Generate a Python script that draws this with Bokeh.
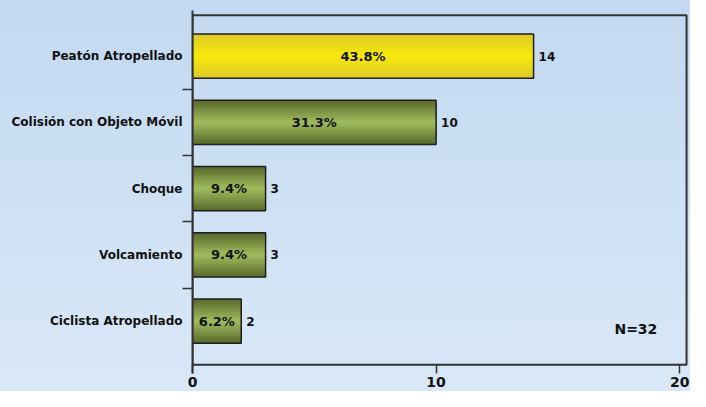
from bokeh.plotting import figure
from bokeh.models import (Range1d, FixedTicker, LinearAxis, BoxAnnotation, Label,
                          ColumnDataSource)
from bokeh.core.properties import value
from bokeh.embed import file_html
from bokeh.resources import INLINE

# ---- data ----
categories = ["Peatón Atropellado", "Colisión con Objeto Móvil", "Choque",
              "Volcamiento", "Ciclista Atropellado"]
counts = [14, 10, 3, 3, 2]
pct_labels = ["43.8%", "31.3%", "9.4%", "9.4%", "6.2%"]
total_label = "N=32"
x_ticks = [0, 10, 20]

# ---- styling ----
FONT = "DejaVu Sans"
EDGE_GREEN, MID_GREEN = (0x5c, 0x6c, 0x2e), (0x9c, 0xb8, 0x5a)
EDGE_YEL, MID_YEL = (0xdf, 0xca, 0x2a), (0xf6, 0xe8, 0x0a)
BAR_H = 0.667

ypos = list(range(len(categories)))
edge_cols = [EDGE_YEL if i == 0 else EDGE_GREEN for i in ypos]
mid_cols = [MID_YEL if i == 0 else MID_GREEN for i in ypos]

def mix(a, b, t):
    return "#%02x%02x%02x" % tuple(int(round(a[k] + (b[k] - a[k]) * t)) for k in range(3))

p = figure(width=690, height=391, output_backend="svg", toolbar_location=None,
           x_range=Range1d(0, 20.36), y_range=Range1d(start=4.79, end=-0.688),
           x_axis_location=None, y_axis_location=None,
           min_border_left=192, min_border_right=2, min_border_top=10, min_border_bottom=18)
p.border_fill_color = None
p.background_fill_color = None
p.outline_line_color = None
p.grid.visible = False
p.styles = {"background-image": "linear-gradient(to bottom, #c2d9f1, #d9e8f7)"}

# frame box
p.add_layout(BoxAnnotation(left=0, right=20.28, top=-0.616, bottom=4.659,
                           fill_color=None, fill_alpha=0, line_color="#333333",
                           line_alpha=1.0, line_width=2, level="underlay"))

# gradient bars (layers)
n_layers = 10
for k in range(n_layers):
    t = k / (n_layers - 1)
    h = BAR_H * (1 - k / n_layers)
    src = ColumnDataSource(dict(y=ypos, right=counts,
                                color=[mix(edge_cols[i], mid_cols[i], t) for i in ypos]))
    p.hbar(y="y", left=0, right="right", height=h, fill_color="color",
           line_color=None, source=src)
p.hbar(y=ypos, left=0, right=counts, height=BAR_H, fill_color=None,
       line_color="#1e1e1e", line_width=1.5)

# labels on bars
p.text(x=[c / 2 for c in counts], y=ypos, text=pct_labels, text_align="center",
       text_baseline="middle", text_font=value(FONT),
       text_font_style="bold", text_font_size="13px", text_color="#111111")
p.text(x=counts, y=ypos, text=[str(c) for c in counts], x_offset=5,
       text_align="left", text_baseline="middle", text_font=value(FONT),
       text_font_style="bold", text_font_size="12px", text_color="#111111")

p.add_layout(Label(x=18.2, y=4.12, text=total_label, text_align="center",
                   text_baseline="middle", text_font=FONT, text_font_style="bold",
                   text_font_size="14px", text_color="#111111"))

# y axis
yax = LinearAxis(ticker=FixedTicker(ticks=ypos, minor_ticks=[i + 0.5 for i in ypos[:-1]]),
                 major_label_overrides={i: categories[i] for i in ypos})
yax.major_tick_line_color = None
yax.major_tick_out = 0
yax.major_tick_in = 0
yax.minor_tick_out = 10
yax.minor_tick_in = 0
yax.minor_tick_line_color = "#333333"
yax.minor_tick_line_width = 1.5
yax.axis_line_color = "#333333"
yax.axis_line_width = 2
yax.major_label_standoff = 0
yax.major_label_text_font = FONT
yax.major_label_text_font_style = "bold"
yax.major_label_text_font_size = "12px"
yax.major_label_text_color = "#111111"
p.add_layout(yax, "left")

# x axis
xax = LinearAxis(ticker=FixedTicker(ticks=x_ticks))
xax.axis_line_color = None
xax.major_tick_in = 9
xax.major_tick_out = 0
xax.major_tick_line_color = "#333333"
xax.major_tick_line_width = 1.5
xax.minor_tick_line_color = None
xax.major_label_standoff = 3
xax.major_label_text_font = FONT
xax.major_label_text_font_style = "bold"
xax.major_label_text_font_size = "14px"
xax.major_label_text_color = "#111111"
p.add_layout(xax, "below")

open("out.html", "w").write(file_html(p, INLINE))
